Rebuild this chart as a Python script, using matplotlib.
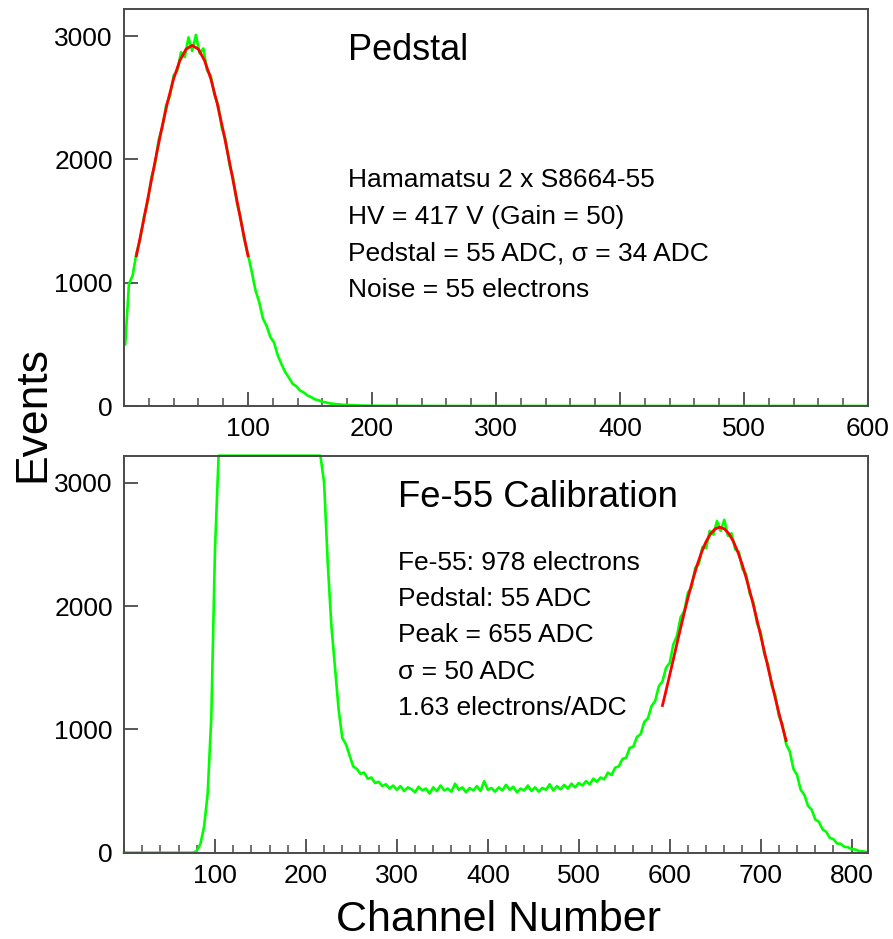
import numpy as np
import matplotlib.pyplot as plt
from matplotlib.ticker import MultipleLocator

plt.rcParams['font.family'] = ['Liberation Sans', 'DejaVu Sans']

W, H = 893, 939

# ---- top panel: pedestal spectrum (3-channel bins starting at channel 1)
ped_counts = [500, 990, 1060, 1240, 1350, 1530, 1650, 1850, 1960, 2160,
              2260, 2440, 2510, 2680, 2720, 2870, 2830, 2990, 2880, 3010,
              2860, 2900, 2720, 2680, 2520, 2440, 2250, 2160, 1960, 1850,
              1650, 1530, 1350, 1230, 1090, 940, 845, 710, 650, 560,
              515, 410, 340, 275, 230, 180, 160, 125, 110, 85,
              72, 54, 46, 34, 29, 21, 18, 14, 12, 9, 8]
ped_tail_x = [190, 200, 220, 260, 600]
ped_tail_y = [4, 2, 1, 0, 0]

# gaussian fit curve (red)
ped_fit_x = [10, 15, 20, 25, 30, 35, 40, 45, 50, 55, 60, 65, 70, 75, 80, 85, 90, 95, 100]
ped_fit_y = [1218, 1464, 1722, 1982, 2232, 2460, 2654, 2801, 2894, 2925,
             2894, 2801, 2654, 2460, 2232, 1982, 1722, 1464, 1218]

# ---- bottom panel: Fe-55 calibration spectrum (4-channel bins from 0)
fe_counts = ([0] * 20 +
             [15, 70, 210, 480, 1100, 2450] +
             [4000, 4300, 4600, 4800, 5000, 5100, 5200, 5300, 5300, 5200,
              5100, 5000, 4900, 4800, 4700, 4600, 4500, 4400, 4300, 4200,
              4100, 4000, 3950, 3900, 3850, 3800, 3700, 3600, 3500] +
             [3000, 2350, 1840, 1500, 1160, 930, 880, 790, 700, 680,
              640, 650, 600, 610, 565, 575, 540, 555, 520, 545,
              510, 540, 500, 530, 515, 490, 535, 505, 520, 480,
              530, 500, 545, 505, 520, 495, 560, 510, 530, 490,
              525, 505, 540, 500, 580, 510, 525, 495, 530, 505,
              550, 510, 535, 490, 520, 505, 545, 500, 530, 495,
              525, 510, 555, 505, 540, 515, 550, 520, 560, 530,
              565, 545, 580, 555, 600, 575, 610, 595, 650, 630,
              690, 700, 760, 770, 850, 860, 940, 960, 1060, 1090,
              1190, 1230, 1350, 1390, 1500, 1540, 1690, 1760, 1910, 1960,
              2110, 2150, 2310, 2340, 2480, 2470, 2610, 2580, 2690, 2610,
              2700, 2570, 2590, 2460, 2440, 2300, 2260, 2100, 2030, 1860,
              1790, 1610, 1530, 1360, 1280, 1110, 1040, 880, 820, 680,
              630, 510, 470, 380, 350, 270, 250, 190, 170, 120,
              110, 75, 72, 48, 44, 28, 26, 14, 12, 6])

fe_fit_x = [592, 595, 600, 605, 610, 615, 620, 625, 630, 635, 640, 645, 650, 655,
            660, 665, 670, 675, 680, 685, 690, 695, 700, 705, 710, 715, 720, 725, 728]
fe_fit_y = [1194, 1285, 1442, 1601, 1761, 1917, 2066, 2205, 2330, 2437, 2524, 2588,
            2627, 2640, 2627, 2588, 2524, 2437, 2330, 2205, 2066, 1917, 1761, 1601,
            1442, 1285, 1134, 991, 909]

top_lines = ["Hamamatsu 2 x S8664-55", "HV = 417 V (Gain = 50)",
             "Pedstal = 55 ADC, \u03c3 = 34 ADC", "Noise = 55 electrons"]
bot_lines = ["Fe-55: 978 electrons", "Pedstal: 55 ADC", "Peak = 655 ADC",
             "\u03c3 = 50 ADC", "1.63 electrons/ADC"]

YTOP = 3220
GREEN = '#00ff00'
RED = '#ff0000'
FRAME = '#4a4a4a'


def px(x, y):
    return x / W, 1 - y / H


def style(ax, xmax, xlabels):
    ax.set_xlim(0, xmax)
    ax.set_ylim(0, YTOP)
    for side in ['left', 'right', 'top', 'bottom']:
        ax.spines[side].set_color(FRAME)
        ax.spines[side].set_linewidth(1.4)
    ax.xaxis.set_minor_locator(MultipleLocator(20))
    ax.yaxis.set_major_locator(MultipleLocator(1000))
    ax.set_xticks(xlabels)
    ax.tick_params(axis='both', which='major', direction='in', length=10,
                   width=1.3, color=FRAME, labelsize=19, pad=8)
    ax.tick_params(axis='x', which='minor', direction='in', length=5.5,
                   width=1.1, color=FRAME)
    ax.tick_params(axis='y', which='minor', left=False)


fig = plt.figure(figsize=(W / 100, H / 100), dpi=100)
ax1 = fig.add_axes([124 / W, 1 - 406 / H, 744 / W, 397 / H])
ax2 = fig.add_axes([124 / W, 1 - 852.7 / H, 744 / W, 397 / H])

# top panel
ped_x = np.concatenate([1 + 3 * np.arange(len(ped_counts)), ped_tail_x])
ped_y = np.concatenate([ped_counts, ped_tail_y])
ax1.plot(ped_x, ped_y, color=GREEN, lw=1.9, zorder=2)
ax1.plot(ped_fit_x, ped_fit_y, color=RED, lw=2.0, zorder=3)
style(ax1, 600, [100, 200, 300, 400, 500, 600])

# bottom panel (counts above the frame are drawn along the top edge)
fe_x = 4 * np.arange(len(fe_counts))
fe_y = np.minimum(np.array(fe_counts, dtype=float), YTOP)
ax2.plot(fe_x, fe_y, color=GREEN, lw=1.9, zorder=2, clip_on=False)
ax2.plot(fe_fit_x, fe_fit_y, color=RED, lw=2.0, zorder=3)
style(ax2, 818, [100, 200, 300, 400, 500, 600, 700, 800])

# annotations
fig.text(*px(348, 60), "Pedstal", fontsize=26, va='baseline', ha='left')
for i, s in enumerate(top_lines):
    fig.text(*px(348, 186.7 + 36.9 * i), s, fontsize=19, va='baseline', ha='left')

fig.text(*px(398, 507.3), "Fe-55 Calibration", fontsize=26.3, va='baseline', ha='left')
for i, s in enumerate(bot_lines):
    fig.text(*px(398, 570 + 36.2 * i), s, fontsize=19, va='baseline', ha='left')

fig.text(*px(33, 414), "Events", fontsize=32, rotation=90, ha='center', va='center')
fig.text(*px(498, 931), "Channel Number", fontsize=31, ha='center', va='baseline')

fig.savefig('out.png', dpi=100, facecolor='white')
